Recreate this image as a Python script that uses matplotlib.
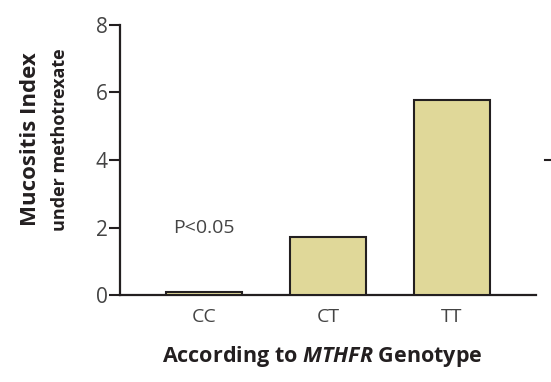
import numpy as np
import matplotlib
matplotlib.use("Agg")
import matplotlib.pyplot as plt

plt.rcParams['font.family'] = ['Open Sans', 'DejaVu Sans']
plt.rcParams['mathtext.fontset'] = 'custom'
plt.rcParams['mathtext.it'] = 'Open Sans:italic:bold'
plt.rcParams['mathtext.rm'] = 'Open Sans:bold'

genotypes = ["CC", "CT", "TT"]
mucositis_index = [0.1, 1.71, 5.78]
y_ticks = [0, 2, 4, 6, 8]
p_text = "P<0.05"

bar_color = "#e0d899"
ink = "#231f20"
grey = "#444444"

fig = plt.figure(figsize=(5.51, 3.82), dpi=100)
ax = fig.add_axes([0.2178, 0.2277, 0.755, 0.707])

x = np.arange(len(genotypes))
ax.bar(x, mucositis_index, width=0.61, color=bar_color, edgecolor=ink,
       linewidth=1.5, zorder=3)

ax.set_xlim(-0.68, 2.68)
ax.set_ylim(0, 8)
ax.set_yticks(y_ticks)
ax.set_yticklabels([str(t) for t in y_ticks], fontsize=15, color=grey)
ax.set_xticks(x)
ax.set_xticklabels(genotypes, fontsize=14, color=grey)

for side in ("top", "right"):
    ax.spines[side].set_visible(False)
for side in ("left", "bottom"):
    ax.spines[side].set_linewidth(1.6)
    ax.spines[side].set_color(ink)
ax.tick_params(axis="y", direction="out", length=8, width=1.5, color=ink, pad=1)
ax.tick_params(axis="x", length=0, pad=9)

ax.text(x[0], 2.0, p_text, ha="center", va="center", fontsize=14, color=grey)

# small stray tick at the right edge (from a neighbouring panel)
ax.plot([2.75, 2.83], [4, 4], color=ink, lw=1.5, clip_on=False)

fig.text(0.056, 0.635, "Mucositis Index", rotation=90, ha="center", va="center",
         fontsize=16, fontweight="bold", color=ink)
fig.text(0.109, 0.635, "under methotrexate", rotation=90, ha="center", va="center",
         fontsize=13, fontweight="bold", color=ink)

fig.text(0.585, 0.066, "According to $\\mathit{MTHFR}$ Genotype", ha="center",
         va="center", fontsize=15.5, fontweight="bold", color=ink)

fig.savefig("out.png", dpi=100)
